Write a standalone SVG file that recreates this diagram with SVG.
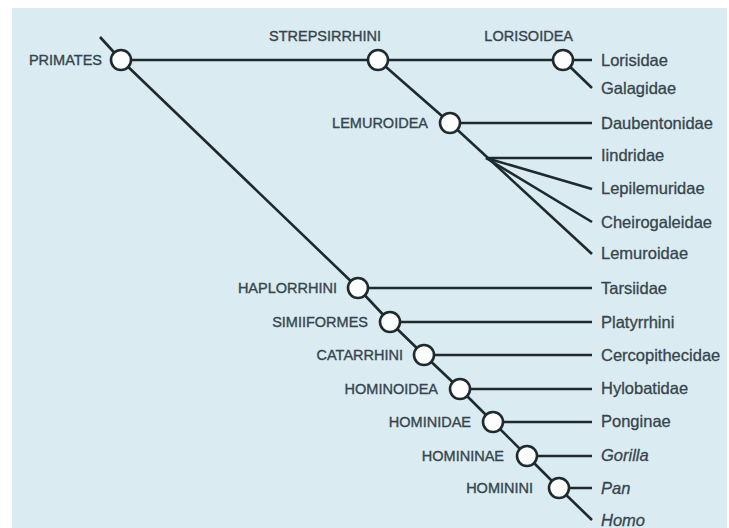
<svg xmlns="http://www.w3.org/2000/svg" width="729" height="528" viewBox="0 0 729 528">
  <style>
    .bg { fill: #daebf2; }
    .edge { stroke: #1f2a2e; stroke-width: 2.6; fill: none; stroke-linecap: butt; }
    .node circle { fill: #fcfdfd; stroke: #1f2a2e; stroke-width: 2.6; }
    .clade { font-family: "Liberation Sans", Arial, sans-serif; font-size: 14.5px; fill: #37454c; stroke: #37454c; stroke-width: 0.35; }
    .taxon { font-family: "Liberation Sans", Arial, sans-serif; font-size: 16.5px; fill: #37454c; stroke: #37454c; stroke-width: 0.3; }
    .it { font-style: italic; }
  </style>

  <rect x="0" y="0" width="729" height="528" fill="#ffffff"/>
  <rect class="bg" x="12" y="8" width="715" height="520"/>

  <!-- connectors -->
  <g id="connectors" class="edge">
    <!-- primate trunk down to Homo -->
    <polyline points="100,37 121,60 358,288 390,322 424,355 460,389 493,422 527,456 559,488 592,520"/>
    <!-- strepsirrhine branch -->
    <line x1="121" y1="60" x2="592" y2="60"/>
    <line x1="563" y1="60" x2="592" y2="88"/>
    <polyline points="378,60 450,123 592,254"/>
    <line x1="450" y1="123" x2="592" y2="123"/>
    <line x1="486" y1="158" x2="592" y2="158"/>
    <line x1="486" y1="158" x2="592" y2="189"/>
    <line x1="486" y1="158" x2="592" y2="222"/>
    <!-- haplorrhine branches -->
    <line x1="358" y1="288" x2="592" y2="288"/>
    <line x1="390" y1="322" x2="592" y2="322"/>
    <line x1="424" y1="355" x2="592" y2="355"/>
    <line x1="460" y1="389" x2="592" y2="389"/>
    <line x1="493" y1="422" x2="592" y2="422"/>
    <line x1="527" y1="456" x2="592" y2="456"/>
    <line x1="559" y1="488" x2="592" y2="488"/>
  </g>

  <!-- internal nodes -->
  <g id="primates" class="node"><circle cx="121" cy="60" r="10"/><text class="clade" x="102" y="65" text-anchor="end">PRIMATES</text></g>
  <g id="strepsirrhini" class="node"><circle cx="378" cy="60" r="10"/><text class="clade" x="381" y="41" text-anchor="end">STREPSIRRHINI</text></g>
  <g id="lorisoidea" class="node"><circle cx="563" cy="60" r="10"/><text class="clade" x="573" y="41" text-anchor="end">LORISOIDEA</text></g>
  <g id="lemuroidea" class="node"><circle cx="450" cy="123" r="10"/><text class="clade" x="428" y="128" text-anchor="end">LEMUROIDEA</text></g>
  <g id="haplorrhini" class="node"><circle cx="358" cy="288" r="10"/><text class="clade" x="337" y="293" text-anchor="end">HAPLORRHINI</text></g>
  <g id="simiiformes" class="node"><circle cx="390" cy="322" r="10"/><text class="clade" x="368" y="327" text-anchor="end">SIMIIFORMES</text></g>
  <g id="catarrhini" class="node"><circle cx="424" cy="355" r="10"/><text class="clade" x="403" y="360" text-anchor="end">CATARRHINI</text></g>
  <g id="hominoidea" class="node"><circle cx="460" cy="389" r="10"/><text class="clade" x="438" y="394" text-anchor="end">HOMINOIDEA</text></g>
  <g id="hominidae" class="node"><circle cx="493" cy="422" r="10"/><text class="clade" x="471" y="427" text-anchor="end">HOMINIDAE</text></g>
  <g id="homininae" class="node"><circle cx="527" cy="456" r="10"/><text class="clade" x="504" y="461" text-anchor="end">HOMININAE</text></g>
  <g id="hominini" class="node"><circle cx="559" cy="488" r="10"/><text class="clade" x="533" y="493" text-anchor="end">HOMININI</text></g>

  <!-- terminal taxa -->
  <g id="lorisidae"><text class="taxon" x="601" y="66">Lorisidae</text></g>
  <g id="galagidae"><text class="taxon" x="601" y="94">Galagidae</text></g>
  <g id="daubentonidae"><text class="taxon" x="601" y="129">Daubentonidae</text></g>
  <g id="iindridae"><text class="taxon" x="601" y="161">Iindridae</text></g>
  <g id="lepilemuridae"><text class="taxon" x="601" y="194">Lepilemuridae</text></g>
  <g id="cheirogaleidae"><text class="taxon" x="601" y="228">Cheirogaleidae</text></g>
  <g id="lemuroidae"><text class="taxon" x="601" y="259">Lemuroidae</text></g>
  <g id="tarsiidae"><text class="taxon" x="601" y="294">Tarsiidae</text></g>
  <g id="platyrrhini"><text class="taxon" x="601" y="328">Platyrrhini</text></g>
  <g id="cercopithecidae"><text class="taxon" x="601" y="361">Cercopithecidae</text></g>
  <g id="hylobatidae"><text class="taxon" x="601" y="394">Hylobatidae</text></g>
  <g id="ponginae"><text class="taxon" x="601" y="427">Ponginae</text></g>
  <g id="gorilla"><text class="taxon it" x="601" y="461">Gorilla</text></g>
  <g id="pan"><text class="taxon it" x="601" y="494">Pan</text></g>
  <g id="homo"><text class="taxon it" x="601" y="526">Homo</text></g>
</svg>
